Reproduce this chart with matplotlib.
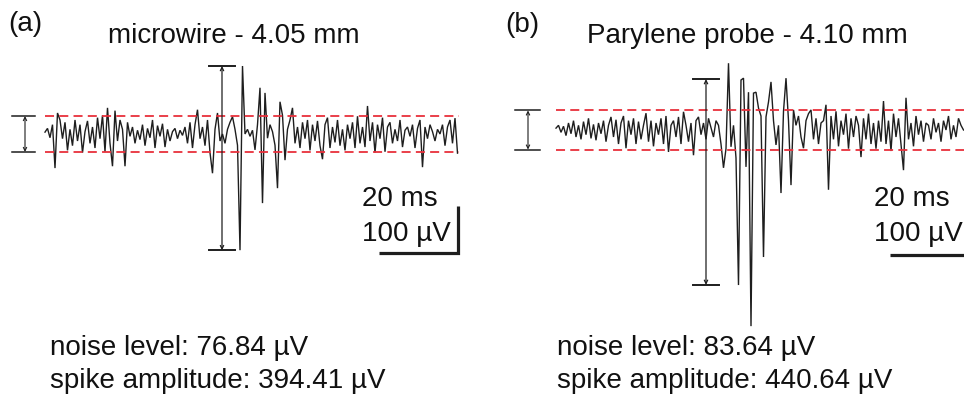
import matplotlib
matplotlib.use("Agg")
import matplotlib.pyplot as plt
import numpy as np

plt.rcParams["font.family"] = ["Liberation Sans", "DejaVu Sans"]

DT_MS = 0.625  # sampling interval, ms

# Extracellular recordings, µV
microwire_uv = [
    4, 12, -8, 20, -73, 45, 30, -10, 25, -35,
    10, -25, 30, -15, 20, -40, 5, 28, -20, 15,
    -30, 35, -10, 40, -38, 56, -20, -69, 50, -15,
    30, 10, -69, 25, -5, 15, -20, 8, -12, 20,
    -25, 12, -8, 30, -30, 18, -5, 22, -28, 10,
    -15, 5, 12, -10, 8, -3, 15, -20, 25, -30,
    20, 52, -10, 15, -25, 30, -40, -84, 10, 45,
    -15, 0, -20, 10, 25, 37, 10, -24, -248.8, 145.6,
    0, 10, -5, 8, -34, 20, 99, -148, 88, -9,
    20, 5, -24, -116, 69, 40, -56, 10, 30, 56,
    -20, 15, -30, 25, -10, 30, -35, 20, -15, 28,
    -25, -54, 20, 35, -30, 15, -18, 30, -25, 10,
    -35, 20, -10, 25, -30, 38, -20, 15, -28, 60,
    -15, 25, -40, 20, -10, 35, -38, 15, 25, -20,
    10, -15, 30, -28, 8, 15, -5, 20, -30, 12,
    30, -71, 15, -10, 20, 5, -15, 10, 0, 20,
    -25, 15, 30, -20, 34, -41,
]

parylene_uv = [
    4, 10, -5, 8, -12, 15, -8, 20, -15, 10,
    -20, 18, -10, 25, -18, 12, -22, 15, -8, 20,
    -25, 10, 28, -15, 22, -30, 15, 30, -39, 20,
    -10, 25, -30, 18, -20, 10, 36, -25, 20, -35,
    15, -10, 25, -30, 30, -47, 10, 20, -15, 28,
    -30, 39, 10, -25, 15, -54, 20, 28, -10, 15,
    -20, 25, 5, -15, 20, 10, -30, -81, -40, 143,
    -36, 10, -60, -332, 107, 111, -79, 81, -420, 79,
    81, 47, 30, -272, 28, 60, 103, 20, -32, 10,
    -135, 40, 111, 20, -118, 43, 10, 30, -15, -39,
    20, 35, 43, -20, 25, -30, 15, 20, 54, -128,
    30, -20, 40, -35, 20, -10, 35, -40, 25, -15,
    30, 10, -58, 25, -20, 35, -30, 15, -40, 20,
    -25, 62, -30, 20, -45, 35, -15, 25, -30, -86,
    69, -20, 15, -35, 30, -10, 20, -25, 15, 10,
    -20, 25, -5, 15, -25, 20, 0, 30, -20, 10,
    -15, 25, 10, 0,
]

panel_labels = ["(a)", "(b)"]
titles = ["microwire - 4.05 mm", "Parylene probe - 4.10 mm"]
noise_levels = [76.84, 83.64]          # µV, peak-to-peak noise band
spike_amplitudes = [394.41, 440.64]    # µV
spike_tops = [145.6, 109.0]            # µV, upper end of the spike bracket

W, H = 964, 398
PX_PER_MS = 4.0
PX_PER_UV = 0.467
INK = "#1e1e1e"
RED = "#e8303c"

fig = plt.figure(figsize=(W / 100, H / 100), dpi=100)


def fx(x):
    return x / W


def fy(y):
    return 1 - y / H


def make_axes(left_px, right_px, x0_px, y0_px):
    ax = fig.add_axes([fx(left_px), 0, (right_px - left_px) / W, 1])
    ax.set_xlim((left_px - x0_px) / PX_PER_MS, (right_px - x0_px) / PX_PER_MS)
    ax.set_ylim((y0_px - H) / PX_PER_UV, y0_px / PX_PER_UV)
    ax.axis("off")
    return ax


def arrow(ax, x, y_top, y_bot, lw):
    ax.annotate("", xy=(x, y_top), xytext=(x, y_bot),
                arrowprops=dict(arrowstyle="<->", lw=lw, color=INK,
                                shrinkA=0, shrinkB=0, mutation_scale=6))


specs = [
    dict(ax_px=(0, 482), origin=(45, 134), nb=(-8.25, -2.5, -5.0),
         sb=(41.0, 47.5, 44.25), bar_y=-254.8, bar_x=(83.5, 103.25),
         red_end=103.5, text_x=50, bar_text_x=362),
    dict(ax_px=(482, 964), origin=(556, 130), nb=(-10.25, -4.0, -7.0),
         sb=(34.25, 40.75, 37.5), bar_y=-267.7, bar_x=(83.5, 103.5),
         red_end=110.0, text_x=557, bar_text_x=874),
]

traces = [microwire_uv, parylene_uv]

for k, spec in enumerate(specs):
    ax = make_axes(*spec["ax_px"], *spec["origin"])
    v = np.asarray(traces[k], dtype=float)
    t = np.arange(len(v)) * DT_MS
    ax.plot(t, v, color=INK, lw=1.0, solid_joinstyle="miter")

    half = noise_levels[k] / 2
    for yy in (half, -half):
        ax.plot([0, spec["red_end"]], [yy, yy], color=RED, lw=1.3,
                dashes=(5.0, 2.9))

    # noise band bracket
    n0, n1, nx = spec["nb"]
    for yy in (half, -half):
        ax.plot([n0, n1], [yy, yy], color=INK, lw=1.1)
    arrow(ax, nx, half, -half, 0.8)

    # spike amplitude bracket
    top = spike_tops[k]
    bot = top - spike_amplitudes[k]
    s0, s1, sx = spec["sb"]
    for yy in (top, bot):
        ax.plot([s0, s1], [yy, yy], color=INK, lw=1.4)
    arrow(ax, sx, top, bot, 0.9)

    # scale bar: 20 ms x 100 µV
    b0, b1 = spec["bar_x"]
    by = spec["bar_y"]
    ax.plot([b0, b1, b1], [by, by, by + 100], color=INK, lw=2.3,
            solid_joinstyle="miter", solid_capstyle="butt")

    fs = 20
    fig.text(fx(spec["bar_text_x"]), fy(206), "20 ms", fontsize=fs,
             va="baseline", ha="left", color="#111111")
    fig.text(fx(spec["bar_text_x"]), fy(241), "100 µV", fontsize=fs,
             va="baseline", ha="left", color="#111111")
    fig.text(fx(spec["text_x"]), fy(355), f"noise level: {noise_levels[k]:.2f} µV",
             fontsize=fs, va="baseline", ha="left", color="#111111")
    fig.text(fx(spec["text_x"]), fy(388),
             f"spike amplitude: {spike_amplitudes[k]:.2f} µV",
             fontsize=fs, va="baseline", ha="left", color="#111111")

fig.text(fx(8), fy(31), panel_labels[0], fontsize=20, va="baseline", color="#111111")
fig.text(fx(505), fy(32), panel_labels[1], fontsize=20, va="baseline", color="#111111")
fig.text(fx(234), fy(43), titles[0], fontsize=20, va="baseline", ha="center", color="#111111")
fig.text(fx(747), fy(43), titles[1], fontsize=20, va="baseline", ha="center", color="#111111")

fig.savefig("out.png", dpi=100, facecolor="white")
